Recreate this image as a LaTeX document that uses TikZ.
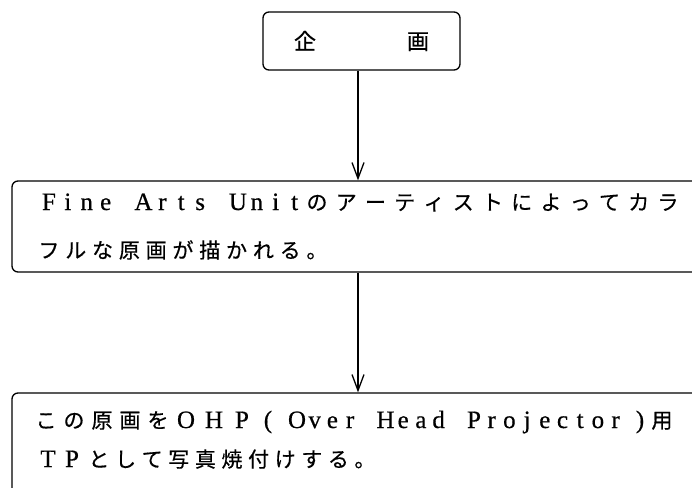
\documentclass[tikz,border=0pt]{standalone}
\usepackage{fontspec}
\setmainfont{Liberation Serif}[FakeBold=0.5]
\newfontfamily\jp{Noto Sans CJK JP}[FakeBold=0.5]
\usetikzlibrary{arrows.meta}
\ExplSyntaxOn
\NewDocumentCommand\pitched{mm}{\str_map_inline:nn{#2}{\makebox[#1][c]{##1}}}
\ExplSyntaxOff
\newcommand\latsz{\fontsize{25}{25}\selectfont}
\newcommand\jpsz{\jp\fontsize{21}{21}\selectfont}
\tikzset{
  box/.style={draw=black, line width=1.3pt, rounded corners=6pt, inner sep=0pt},
  conn/.style={draw=black, line width=1.5pt, -{Straight Barb[length=16pt,width=12pt,line width=1.3pt]}},
  txt/.style={anchor=base west, inner sep=0pt, outer sep=0pt},
  ctxt/.style={anchor=base, inner sep=0pt, outer sep=0pt}
}
\begin{document}
\begin{tikzpicture}[x=1pt,y=-1pt]
\useasboundingbox (0,0) rectangle (692,487);
\clip (0,0) rectangle (692,487);
\fill[white] (0,0) rectangle (692,487);
% boxes
\node[box, minimum width=197pt, minimum height=58pt] (plan) at (361.5,41)
  {\jp\fontsize{22}{22}\selectfont 企\hspace{91pt}画};
\node[box, minimum width=692pt, minimum height=91pt] (draw) at (358,226.5) {};
\node[box, minimum width=692pt, minimum height=140pt] (photo) at (358,463) {};
% connectors
\draw[conn] ([xshift=-3.5pt]plan.south) -- (draw.north);
\draw[conn] (draw.south) -- (photo.north);
% box 2 text
\node[txt] (t1a) at (39.5,210) {\latsz\pitched{18.9pt}{Fine Arts Unit}};
\node[txt] (t1b) at (302.4,210) {\jpsz\pitched{29.25pt}{のアーティストによってカラ}};
\node[txt] (t2) at (35.6,258) {\jpsz\pitched{26.8pt}{フルな原画が描かれる。}};
% box 3 text
\node[txt] (t3a) at (32,428) {\jpsz\pitched{28pt}{この原画を}};
\node[txt] (t3b) at (172,428) {\latsz\pitched{28pt}{OHP}};
\node[ctxt] (t3c) at (268,428) {\latsz (};
\node[txt] (t3d) at (288.15,428) {\latsz\pitched{17.7pt}{Over Head Projector}};
\node[ctxt] (t3e) at (640,428) {\latsz )};
\node[ctxt] (t3f) at (662,428) {\jpsz 用};
\node[txt] (t4a) at (36,467) {\latsz\pitched{24pt}{TP}};
\node[txt] (t4b) at (85.7,467) {\jpsz\pitched{26.6pt}{として写真焼付けする。}};
\end{tikzpicture}
\end{document}
